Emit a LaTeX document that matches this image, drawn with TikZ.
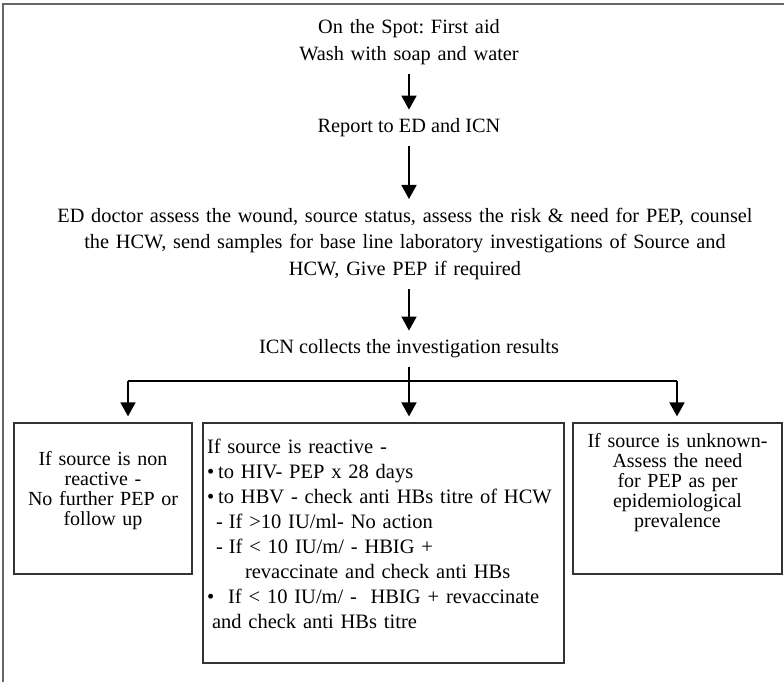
\documentclass[tikz,border=0pt]{standalone}
\usepackage{fontspec}
\setmainfont{Liberation Serif}
\usetikzlibrary{arrows.meta}
\begin{document}
\frenchspacing
\begin{tikzpicture}[x=1pt,y=-1pt]
\tikzstyle{every node}+=[inner sep=0pt]
\tikzstyle{txt}=[align=center,font=\fontsize{20.3}{26.5}\selectfont,inner ysep=9pt]
\tikzstyle{box}=[draw=black!80,line width=1.2pt,inner xsep=4pt,minimum height=151pt]
\tikzstyle{arr}=[line width=1.8pt,-{Triangle[length=14pt,width=15pt]}]
\useasboundingbox (0,0) rectangle (784,682);
\draw [black!60,line width=1.3pt] (3,682) -- (3,4) -- (784,4);
\node [txt,text width=400pt] (spot) at (409,42) {On the Spot: First aid\\Wash with soap and water};
\node [txt] (report) at (409,128) {Report to ED and ICN};
\node [txt,text width=730pt] (ed) at (405,244) {ED doctor assess the wound, source status, assess the risk \& need for PEP, counsel\\the HCW, send samples for base line laboratory investigations of Source and\\HCW, Give PEP if required};
\node [txt] (icn) at (409,349) {ICN collects the investigation results};
\coordinate (split) at (409,381);
\coordinate (leftend) at (128,381);
\coordinate (rightend) at (677,381);
\node [box,minimum width=178pt,text width=170pt,align=center,font=\fontsize{20}{19.8}\selectfont] (nonreact) at (103,498.5) {If source is non\\reactive -\\No further PEP or\\follow up\rule[-20pt]{0pt}{20pt}};
\node [box,minimum width=361pt,minimum height=240pt,text width=353pt,align=left,font=\fontsize{20.5}{25}\selectfont] (reactive) at (383.5,543) {If source is reactive -\\
•\hspace{4pt}to HIV- PEP x 28 days\\
•\hspace{4pt}to HBV - check anti HBs titre of HCW\\
\hspace*{9pt}-\hspace{6pt}If >10 IU/ml- No action\\
\hspace*{9pt}-\hspace{6pt}If < 10 IU/m/ - HBIG +\\
\hspace*{38pt}revaccinate and check anti HBs\\
•\hspace{14pt}If < 10 IU/m/ -\ \ HBIG + revaccinate\\
\hspace*{5pt}and check anti HBs titre\rule[-18pt]{0pt}{18pt}};
\node [box,minimum width=209pt,text width=201pt,align=center,font=\fontsize{20}{20}\selectfont] (unknown) at (677.5,498.5) {If source is unknown-\\Assess the need\\for PEP as per\\epidemiological\\prevalence\rule[-36pt]{0pt}{36pt}};
\draw [arr] (spot) -- (report);
\draw [arr] (report.south) -- (report.south |- ed.north);
\draw [arr] (icn.north |- ed.south) -- (icn);
\draw [arr,shorten >=6pt] (icn) -- (icn |- reactive.north);
\draw [line width=1.8pt] (leftend) -- (rightend);
\draw [arr,shorten >=6pt] (leftend) -- (leftend |- nonreact.north);
\draw [arr,shorten >=6pt] (rightend) -- (rightend |- unknown.north);
\end{tikzpicture}
\end{document}
